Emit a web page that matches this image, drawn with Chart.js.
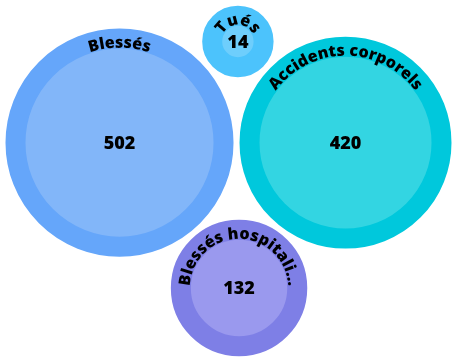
<!DOCTYPE html>
<html>
<head>
<meta charset="utf-8">
<script src="https://cdn.jsdelivr.net/npm/chart.js@4"></script>
<style>
  html, body { margin: 0; padding: 0; background: #fff; }
  #wrap { width: 453px; height: 358px; }
</style>
</head>
<body>
<div id="wrap"><canvas id="myChart"></canvas></div>
<script>
// Daten
const categories = ['Blessés', 'Tués', 'Accidents corporels', 'Blessés hospitalisés'];
const values = [502, 14, 420, 132];

// Farben (Ring / Innenkreis)
const ringColors = ['#65a6fa', '#4cc3fc', '#00c8dc', '#7e7fe6'];
const fillColors = ['#82b6f9', '#6ecefc', '#33d5e2', '#9a99ee'];

const W = 453, H = 358;
const RING = 20;   // Breite des Rings
const GAP = 6;     // Abstand zwischen Kreisen

// einfache Kreis-Packung: die zwei grössten nebeneinander, dann unten / oben anlegen
function tangent(pa, ra, pb, rb, r, side) {
    const d1 = ra + r + GAP, d2 = rb + r + GAP;
    const dx = pb.x - pa.x, dy = pb.y - pa.y;
    const D = Math.hypot(dx, dy);
    const along = (d1 * d1 - d2 * d2 + D * D) / (2 * D);
    const h = Math.sqrt(Math.max(0, d1 * d1 - along * along));
    const ux = dx / D, uy = dy / D;
    return { x: pa.x + ux * along - uy * h * side, y: pa.y + uy * along + ux * h * side };
}

function layout(k) {
    const inner = values.map(v => k * Math.sqrt(v));
    const outer = inner.map(r => r + RING);
    const order = values.map((v, i) => i).sort((a, b) => values[b] - values[a]);
    const pos = [];
    const [a, b, c, d] = order;
    pos[a] = { x: 0, y: 0 };
    pos[b] = { x: outer[a] + outer[b] + GAP, y: 0 };
    pos[c] = tangent(pos[a], outer[a], pos[b], outer[b], outer[c], 1);  // unten
    pos[d] = tangent(pos[a], outer[a], pos[b], outer[b], outer[d], -1); // oben
    let x0 = Infinity, x1 = -Infinity, y0 = Infinity, y1 = -Infinity;
    pos.forEach((p, i) => {
        x0 = Math.min(x0, p.x - outer[i]); x1 = Math.max(x1, p.x + outer[i]);
        y0 = Math.min(y0, p.y - outer[i]); y1 = Math.max(y1, p.y + outer[i]);
    });
    return { inner, outer, pos, x0, x1, y0, y1 };
}

// Skalierung suchen, damit alles reinpasst
let lo = 0.5, hi = 20;
for (let i = 0; i < 40; i++) {
    const m = (lo + hi) / 2;
    const L = layout(m);
    if (L.x1 - L.x0 <= W - 7 && L.y1 - L.y0 <= H - 6) lo = m; else hi = m;
}
const L = layout(lo);
const offX = W / 2 - (L.x0 + L.x1) / 2 + 2;
const offY = H / 2 - (L.y0 + L.y1) / 2 + 2;

const bubbles = values.map((v, i) => ({
    x: L.pos[i].x + offX,
    y: L.pos[i].y + offY,
    r: L.inner[i] + RING / 2
}));

const FONT = '"Open Sans", "Noto Sans", sans-serif';

function fitLabel(ctx, text, rb) {
    const maxSpan = Math.PI;
    if (ctx.measureText(text).width / rb <= maxSpan) return text;
    let t = text;
    while (t.length > 1 && ctx.measureText(t + '...').width / rb > maxSpan) t = t.slice(0, -1);
    return t.trimEnd() + '...';
}

const labelPlugin = {
    id: 'curvedLabels',
    afterDatasetsDraw(chart) {
        const ctx = chart.ctx;
        const meta = chart.getDatasetMeta(0);
        meta.data.forEach((el, i) => {
            const cx = el.x, cy = el.y;
            const rIn = L.inner[i];
            ctx.save();
            ctx.fillStyle = '#000';
            // Wert in der Mitte
            ctx.font = '800 18px ' + FONT;
            ctx.textAlign = 'center';
            ctx.textBaseline = 'middle';
            ctx.fillText(String(values[i]), cx, cy + 1);

            // Beschriftung entlang dem Bogen
            ctx.font = '800 16px ' + FONT;
            ctx.textBaseline = 'alphabetic';
            const rb = rIn + 1;
            const text = fitLabel(ctx, categories[i], rb);
            const total = ctx.measureText(text).width;
            const start = -Math.PI / 2 - total / rb / 2;
            let acc = 0;
            for (const ch of text) {
                const cw = ctx.measureText(ch).width;
                const ang = start + (acc + cw / 2) / rb;
                ctx.save();
                ctx.translate(cx + rb * Math.cos(ang), cy + rb * Math.sin(ang));
                ctx.rotate(ang + Math.PI / 2);
                ctx.fillText(ch, 0, 0);
                ctx.restore();
                acc += cw;
            }
            ctx.restore();
        });
    }
};

new Chart(document.getElementById('myChart'), {
    type: 'bubble',
    data: {
        labels: categories,
        datasets: [{
            data: bubbles,
            backgroundColor: fillColors,
            borderColor: ringColors,
            borderWidth: RING,
            hoverBorderWidth: RING,
            hoverRadius: 0,
            clip: false
        }]
    },
    options: {
        responsive: true,
        maintainAspectRatio: false,
        animation: false,
        events: [],
        layout: { padding: 0, autoPadding: false },
        scales: {
            x: { type: 'linear', min: 0, max: W, display: false },
            y: { type: 'linear', min: 0, max: H, reverse: true, display: false }
        },
        plugins: {
            legend: { display: false },
            tooltip: { enabled: false }
        }
    },
    plugins: [labelPlugin]
});
</script>
</body>
</html>
